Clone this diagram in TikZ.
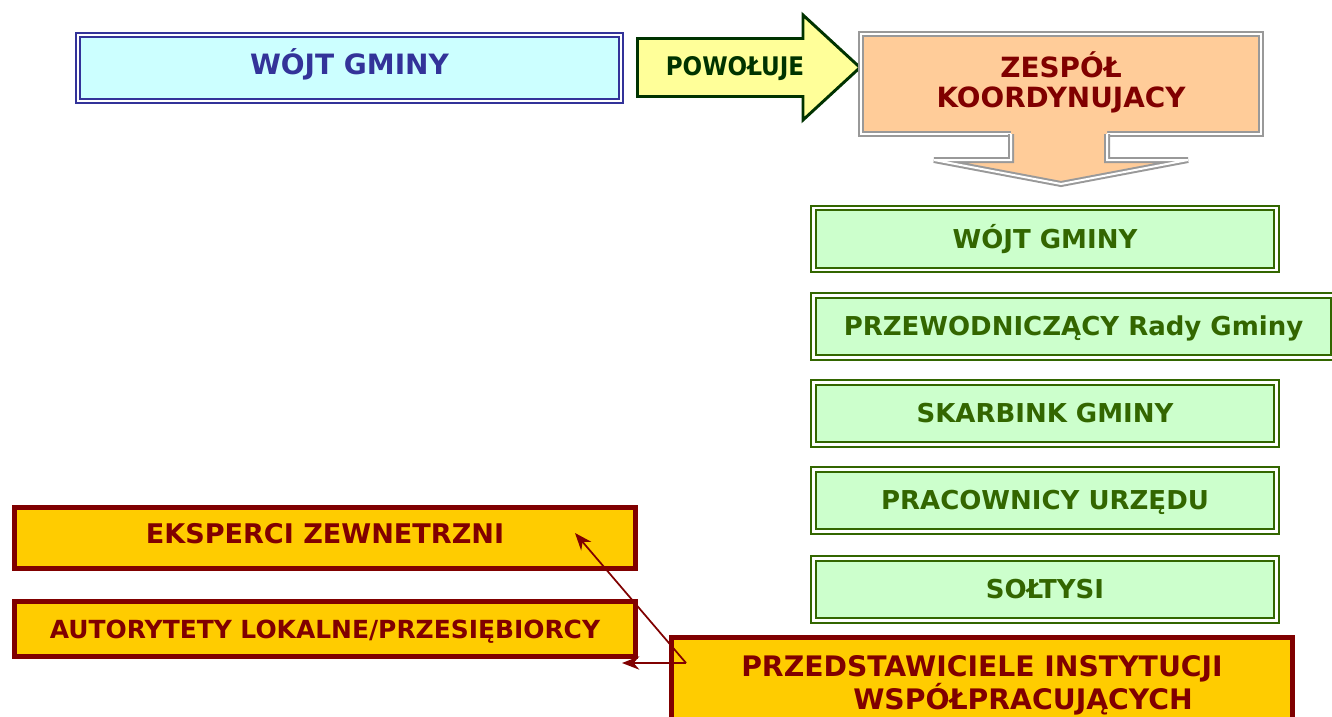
\documentclass[tikz,border=0pt]{standalone}
\usepackage{fontspec}
\setmainfont{DejaVu Sans}
\newfontfamily\condfont{DejaVu Sans Condensed}
\usepackage{tikz}
\usetikzlibrary{shapes,arrows,arrows.meta,calc,positioning}
\tikzstyle{link} = [line width=1.3pt, draw=redline, ->, >={Stealth[length=13pt,width=10pt]}]
\definecolor{wojtblue}{HTML}{333399}
\definecolor{wojtfill}{HTML}{CCFFFF}
\definecolor{powfill}{HTML}{FFFF99}
\definecolor{powdraw}{HTML}{003300}
\definecolor{zespfill}{HTML}{FFCC99}
\definecolor{zespdraw}{HTML}{999999}
\definecolor{redline}{HTML}{800000}
\definecolor{grfill}{HTML}{CCFFCC}
\definecolor{grdraw}{HTML}{336600}
\definecolor{goldfill}{HTML}{FFCC00}
\newdimen\pxu
\pxu=0.75pt

\begin{document}
\begin{tikzpicture}[x=0.75pt,y=-0.75pt]
\tikzset{box/.style={rectangle,inner sep=0pt,text depth=0pt},
bluebox/.style={box,draw=wojtblue,double=white,double distance=2.2pt,line width=1.5pt,fill=wojtfill,text=wojtblue,font=\fontsize{21}{25}\selectfont\bfseries,text height=15.3pt,text depth=6pt},
greenbox/.style={box,draw=grdraw,double=white,double distance=1.8pt,line width=1.6pt,fill=grfill,text=grdraw,font=\fontsize{19.5}{23}\selectfont\bfseries,text height=14.2pt},
goldbox/.style={box,draw=redline,line width=3.75pt,fill=goldfill,text=redline},
orangebox/.style={box,draw=zespdraw,double=white,double distance=1.5pt,line width=1.5pt,fill=zespfill}}
\useasboundingbox (0,0) rectangle (1332,717);
\clip (0,0) rectangle (1332,717);
\fill[white] (0,0) rectangle (1332,717);

% top row
\node[bluebox,minimum width=543\pxu,minimum height=66\pxu] (wojt) at (349.5,68) {WÓJT GMINY};

\draw[powdraw,line width=2.2pt,fill=powfill,line join=miter]
(637.5,38.5) -- (803,38.5) -- (803,15) -- (860,67.5) -- (803,120) -- (803,96.5) -- (637.5,96.5) -- cycle;
\node[box,text=powdraw,font=\condfont\fontsize{19.2}{23}\selectfont\bfseries,text height=14pt] (powoluje) at (735,66) {POWOŁUJE};

\node[orangebox,minimum width=400\pxu,minimum height=100\pxu] (zespol) at (1061,84) {};
\fill[zespfill] (1011,160) -- (934,160) -- (1061,184) -- (1188,160) -- (1107,160) -- (1107,128) -- (1011,128) -- cycle;
\draw[zespdraw,double=white,double distance=1.5pt,line width=1.5pt,line join=miter]
(1011,134) -- (1011,160) -- (934,160) -- (1061,184) -- (1188,160) -- (1107,160) -- (1107,134);
\node[align=center,inner sep=0pt,text=redline,font=\fontsize{20.9}{22.5}\selectfont\bfseries] (zespolT) at (1061,82) {ZESPÓŁ\\KOORDYNUJACY};

% zespol members
\foreach \n/\cx/\y/\w/\t in {wojtz/1045/239/463/{WÓJT GMINY},
przew/1073.5/326.5/520/{PRZEWODNICZĄCY Rady Gminy},
skarb/1045/413.5/463/{SKARBINK GMINY},
pracow/1045/500.5/463/{PRACOWNICY URZĘDU},
soltysi/1045/589.5/463/{SOŁTYSI}}
{
\node[greenbox,minimum width=\w\pxu,minimum height=62\pxu] (\n) at (\cx,\y) {\t};}

% partners
\node[goldbox,minimum width=621\pxu,minimum height=61\pxu,font=\fontsize{20.3}{24}\selectfont\bfseries,text height=14.8pt,text depth=6pt] (eksperci) at (325,538) {EKSPERCI ZEWNETRZNI};
\node[goldbox,minimum width=621\pxu,minimum height=55\pxu,font=\fontsize{18.7}{22}\selectfont\bfseries,text height=13.6pt] (autorytety) at (325,629) {AUTORYTETY LOKALNE/PRZESIĘBIORCY};
\node[goldbox,minimum width=621\pxu,minimum height=110\pxu] (instytucje) at (982,692.5) {};
\node[anchor=north west,align=left,inner sep=0pt,text=redline,font=\fontsize{21.2}{24.75}\selectfont\bfseries] (instytucjeT) at (741,655) {PRZEDSTAWICIELE INSTYTUCJI\\\hspace*{112\pxu}WSPÓŁPRACUJĄCYCH};

\coordinate (jn) at (686,663);
\coordinate (ekspEnd) at (575,533);
\coordinate (autoEnd) at (622,663);
\draw[link] (jn) -- (ekspEnd);
\draw[link] (jn) -- (autoEnd);

\end{tikzpicture}
\end{document}
